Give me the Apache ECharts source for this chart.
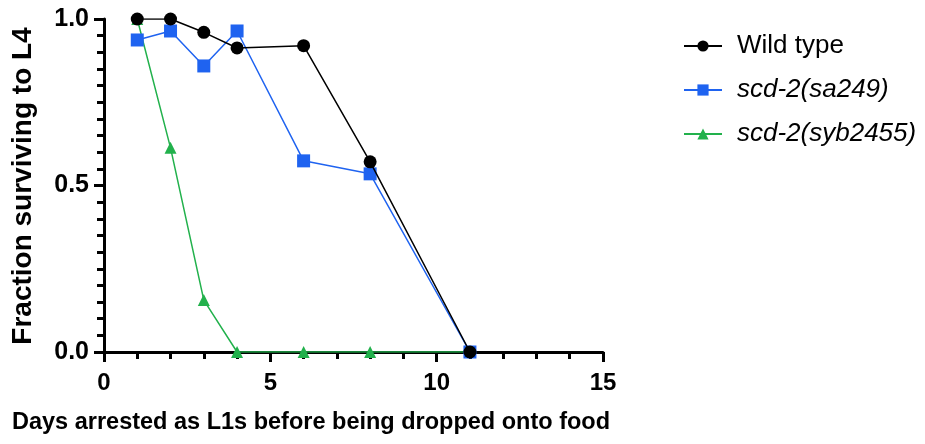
<!DOCTYPE html>
<html><head><meta charset="utf-8">
<script src="https://cdn.jsdelivr.net/npm/echarts@6/dist/echarts.min.js"></script>
<style>html,body{margin:0;padding:0;background:#fff}#c{width:925px;height:444px}</style>
</head><body><div id="c"></div>
<script>
const days = [1, 2, 3, 4, 6, 8, 11];
const wildType = [1.0, 1.0, 0.96, 0.913, 0.92, 0.571, 0];
const sa249 = [0.937, 0.964, 0.859, 0.964, 0.574, 0.535, 0];
const syb2455 = [1.0, 0.613, 0.156, 0, 0, 0, 0];
const seriesNames = ['Wild type', 'scd-2(sa249)', 'scd-2(syb2455)'];
const xTitle = 'Days arrested as L1s before being dropped onto food';
const yTitle = 'Fraction surviving to L4';

const F = 'Liberation Sans, Arial, Helvetica, sans-serif';
const pair = a => days.map((d, i) => [d, a[i]]);
const chart = echarts.init(document.getElementById('c'));
const axisCommon = {
  axisLine: {show: true, lineStyle: {color: '#000', width: 3}},
  axisTick: {show: true, length: 10, lineStyle: {color: '#000', width: 3}},
  splitLine: {show: false}
};
const lbl = {color: '#000', fontFamily: F, fontWeight: 'bold', fontSize: 25};
const mk = (name, data, color, symbol, size, z) => ({
  name, type: 'line', data: pair(data), symbol, symbolSize: size,
  lineStyle: {color, width: 1.5}, itemStyle: {color}, z,
  emphasis: {disabled: true}
});
chart.setOption({
  animation: false,
  grid: {left: 104, right: 322, top: 19, bottom: 92, containLabel: false},
  xAxis: Object.assign({type: 'value', min: 0, max: 15, interval: 5}, axisCommon,
    {minorTick: {show: true, splitNumber: 5, length: 7, lineStyle: {color: '#000', width: 3}},
     axisLabel: Object.assign({}, lbl, {fontSize: 24, margin: 19})}),
  yAxis: Object.assign({type: 'value', min: 0, max: 1, interval: 0.5}, axisCommon,
    {minorTick: {show: true, splitNumber: 10, length: 7, lineStyle: {color: '#000', width: 3}},
     axisLabel: Object.assign({}, lbl, {margin: 15, formatter: v => v.toFixed(1)})}),
  legend: {
    left: 678, top: 28, orient: 'vertical', itemGap: 18, itemWidth: 38, itemHeight: 14,
    data: seriesNames,
    formatter: n => n === 'Wild type' ? n : '{i|' + n + '}',
    textStyle: {color: '#000', fontFamily: F, fontSize: 26, lineHeight: 26, padding: [0, 0, 0, 10],
      rich: {i: {fontStyle: 'italic', fontFamily: F, fontSize: 26, lineHeight: 26, color: '#000'}}}
  },
  graphic: [
    {type: 'text', left: 12, top: 411, style: {text: xTitle, fontFamily: F, fontWeight: 'bold', fontSize: 23.5, fill: '#000'}},
    {type: 'text', x: 9, y: 186, rotation: Math.PI / 2, style: {text: yTitle, fontFamily: F, fontWeight: 'bold', fontSize: 28, fill: '#000', align: 'center', verticalAlign: 'top'}}
  ],
  series: [
    mk(seriesNames[2], syb2455, '#22b14c', 'triangle', 12, 2),
    mk(seriesNames[1], sa249, '#1f63f0', 'rect', 13, 3),
    mk(seriesNames[0], wildType, '#000000', 'circle', 13, 4)
  ]
});
</script></body></html>
